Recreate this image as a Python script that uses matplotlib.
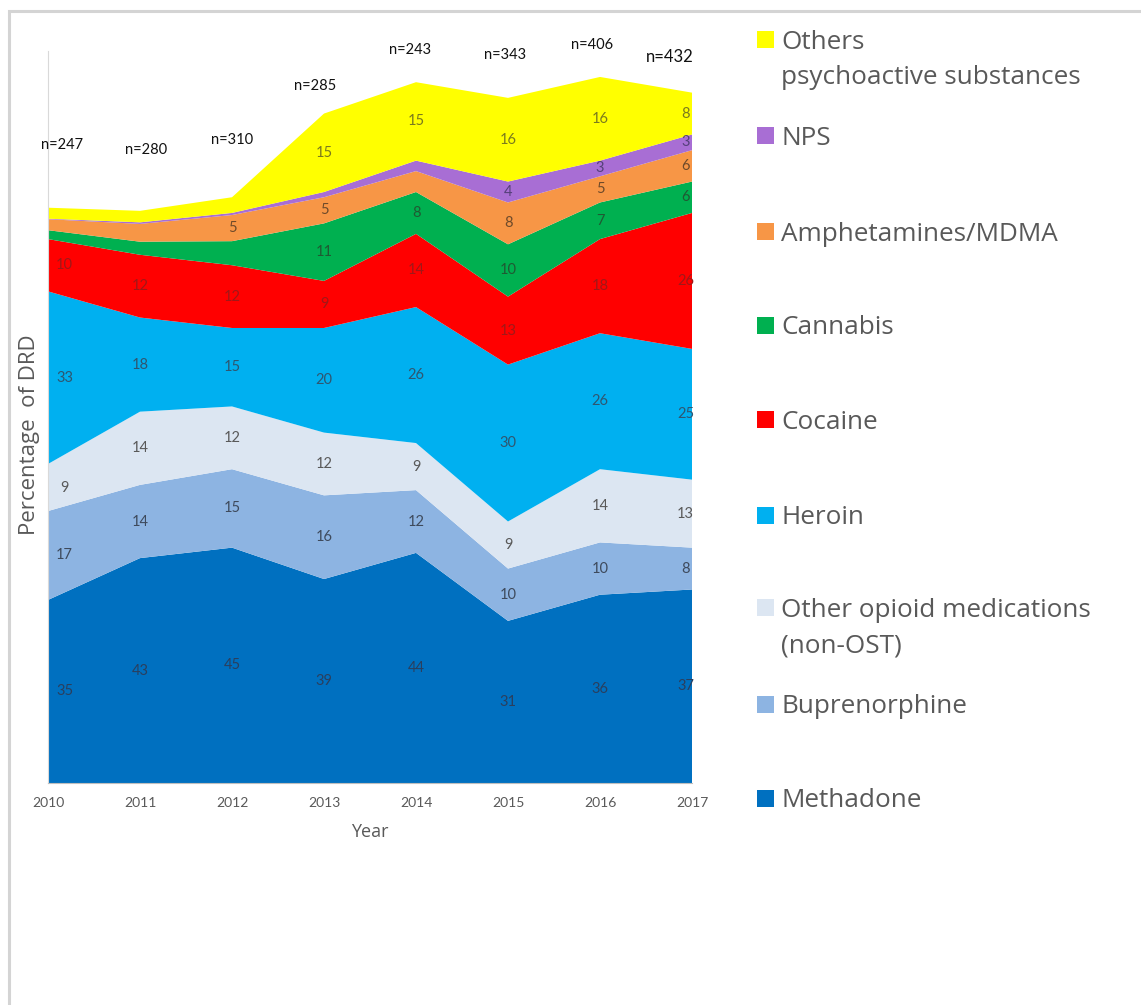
import matplotlib
matplotlib.use("Agg")
import matplotlib.pyplot as plt
from matplotlib.patches import Rectangle
import numpy as np

plt.rcParams['font.family'] = ['Lato', 'DejaVu Sans']

# ---------------- data ----------------
years = [2010, 2011, 2012, 2013, 2014, 2015, 2016, 2017]
n_labels = ["n=247", "n=280", "n=310", "n=285", "n=243", "n=343", "n=406", "n=432"]

methadone      = [35, 43, 45, 39, 44, 31, 36, 37]
buprenorphine  = [17, 14, 15, 16, 12, 10, 10, 8]
other_opioid   = [9, 14, 12, 12, 9, 9, 14, 13]
heroin         = [33, 18, 15, 20, 26, 30, 26, 25]
cocaine        = [10, 12, 12, 9, 14, 13, 18, 26]
cannabis       = [1.7, 2.5, 4.6, 11, 8, 10, 7, 6]
amphetamines   = [2.1, 3.4, 5, 5, 4, 8, 5, 6]
nps            = [0.1, 0.3, 0.4, 1, 2, 4, 3, 3]
others         = [2.1, 2.2, 3, 15, 15, 16, 16, 8]

series_names = ["Methadone", "Buprenorphine", "Other opioid medications\n(non-OST)",
                "Heroin", "Cocaine", "Cannabis", "Amphetamines/MDMA", "NPS",
                "Others\npsychoactive substances"]
series_values = [methadone, buprenorphine, other_opioid, heroin, cocaine,
                 cannabis, amphetamines, nps, others]

# which data labels are displayed (1 = shown)
shown = [
    [1, 1, 1, 1, 1, 1, 1, 1],
    [1, 1, 1, 1, 1, 1, 1, 1],
    [1, 1, 1, 1, 1, 1, 1, 1],
    [1, 1, 1, 1, 1, 1, 1, 1],
    [1, 1, 1, 1, 1, 1, 1, 1],
    [0, 0, 0, 1, 1, 1, 1, 1],
    [0, 0, 1, 1, 0, 1, 1, 1],
    [0, 0, 0, 0, 0, 1, 1, 1],
    [0, 0, 0, 1, 1, 1, 1, 1],
]

# ---------------- style ----------------
colors = ["#0070C0", "#8DB4E2", "#DCE6F2", "#00B0F0", "#FF0000",
          "#00B050", "#F79646", "#A86ED4", "#FFFF00"]
label_colors = ["#2A3F5E", "#3E4A5C", "#595959", "#2F5670", "#A01818",
                "#1F5A33", "#6E4A2A", "#55407A", "#7A7A1E"]

W, H = 1141, 1005
fig = plt.figure(figsize=(W / 100, H / 100), dpi=100)

# light border around chart area
fig.patches.append(Rectangle((9 / W, -0.01), 1.05, 1 - 11 / H + 0.01,
                             transform=fig.transFigure, fill=False,
                             edgecolor="#D4D4D4", linewidth=2.2))

ax_left, ax_right = 48, 692
ax_bottom = 783
ymax = 140
px_per_unit = 5.23
ax_h = ymax * px_per_unit
ax = fig.add_axes([ax_left / W, (H - ax_bottom) / H,
                   (ax_right - ax_left) / W, ax_h / H])

x = np.array(years, dtype=float)
ax.stackplot(x, *series_values, colors=colors, linewidth=0)
ax.set_xlim(years[0], years[-1])
ax.set_ylim(0, ymax)

# data labels
cum = np.zeros(len(years))
for vals, show, lc in zip(series_values, shown, label_colors):
    v = np.array(vals, dtype=float)
    mids = cum + v / 2
    for i, yr in enumerate(years):
        if show[i]:
            dx = 0.0
            if i == 0:
                dx = 0.18
            elif i == len(years) - 1:
                dx = -0.07
            ax.text(yr + dx, mids[i], f"{vals[i]:g}", ha="center", va="center",
                    fontsize=10.5, color=lc)
    cum += v

# axes styling
for s in ["top", "right"]:
    ax.spines[s].set_visible(False)
ax.spines["left"].set_color("#D9D9D9")
ax.spines["bottom"].set_color("#BFBFBF")
ax.set_yticks([])
ax.set_xticks(years)
ax.set_xticklabels([str(y) for y in years], fontsize=10, color="#595959")
ax.tick_params(axis="x", length=0, pad=10)
ax.set_xlabel("Year", fontsize=13, color="#595959", labelpad=10,
              family=["Open Sans", "DejaVu Sans"])

fig.text(30 / W, 1 - 435 / H, "Percentage  of DRD", rotation=90, ha="center",
         va="center", fontsize=16, color="#595959",
         family=["Open Sans", "DejaVu Sans"])

# n= annotations
n_pos = [(62, 145), (146, 150), (232, 140), (315, 86), (410, 50),
         (505, 55), (592, 45), (670, 57)]
for (px, py), lab in zip(n_pos, n_labels):
    big = lab == n_labels[-1]
    fig.text(px / W, 1 - py / H, lab, ha="center", va="center",
             fontsize=12 if big else 10.5, color="#111111")

# legend (manual)
leg_y = [798, 704, 608, 515, 420, 325, 232, 136, 40]
sq = 17
for name, col, yc in zip(series_names, colors, leg_y):
    fig.patches.append(Rectangle((757 / W, 1 - (yc + sq / 2) / H), sq / W, sq / H,
                                 transform=fig.transFigure, facecolor=col,
                                 edgecolor="none"))
    fig.text(781 / W, 1 - (yc - 10) / H, name, ha="left", va="top",
             fontsize=18.8, color="#595959", linespacing=1.55,
             family=["Open Sans", "DejaVu Sans"])

fig.savefig("out.png", dpi=100)
